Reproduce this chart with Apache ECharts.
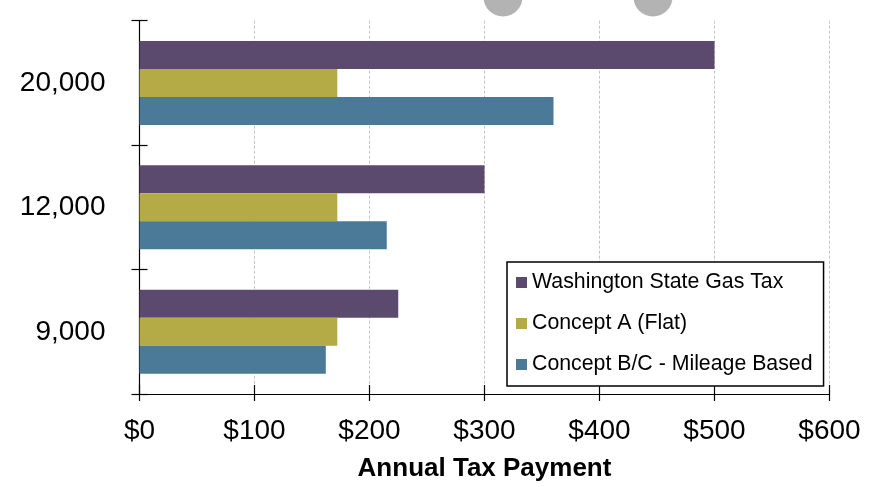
<!DOCTYPE html>
<html>
<head>
<meta charset="utf-8">
<script src="https://cdn.jsdelivr.net/npm/echarts@6/dist/echarts.min.js"></script>
<style>html,body{margin:0;padding:0;background:#fff;}#c{width:873px;height:487px;}</style>
</head>
<body>
<div id="c"></div>
<script>
const categories = ['9,000', '12,000', '20,000'];
const seriesNames = ['Washington State Gas Tax', 'Concept A (Flat)', 'Concept B/C - Mileage Based'];
const gasTax = [225, 300, 500];
const conceptA = [172, 172, 172];
const conceptBC = [162, 215, 360];
const xTicks = [0, 100, 200, 300, 400, 500, 600];
const colors = ['#5c4a6e', '#b4ab46', '#4a7a98'];
const FONT = 'Liberation Sans, Arial, sans-serif';

const chart = echarts.init(document.getElementById('c'));
const valueAxisBase = {
  type: 'value', min: xTicks[0], max: xTicks[xTicks.length - 1], interval: 100, position: 'bottom'
};
chart.setOption({
  animation: false,
  grid: { left: 139.5, right: 43.5, top: 20.7, bottom: 87.5, containLabel: false },
  legend: {
    orient: 'vertical', left: 507, top: 262,
    data: seriesNames,
    itemWidth: 11, itemHeight: 11, itemGap: 20,
    padding: [10, 11, 11, 9],
    borderColor: '#000', borderWidth: 1.5, backgroundColor: '#fff',
    textStyle: { fontFamily: FONT, fontSize: 21.3, color: '#000' },
    icon: 'rect'
  },
  xAxis: [
    Object.assign({}, valueAxisBase, {
      axisLine: { show: true, lineStyle: { color: '#000', width: 1.2 } },
      axisTick: { show: true, inside: false, length: 7, lineStyle: { color: '#000', width: 1.2 } },
      axisLabel: { fontFamily: FONT, fontSize: 28, color: '#000', margin: 23, formatter: v => '$' + v },
      splitLine: { show: true, lineStyle: { color: '#c4c4c4', width: 1, type: [3, 2] } },
      name: 'Annual Tax Payment', nameLocation: 'middle', nameGap: 62,
      nameTextStyle: { fontFamily: FONT, fontSize: 26, fontWeight: 'bold', color: '#000' }
    }),
    Object.assign({}, valueAxisBase, {
      axisLine: { show: false },
      axisTick: { show: true, inside: true, length: 9, lineStyle: { color: '#000', width: 1.2 } },
      axisLabel: { show: false },
      splitLine: { show: false }
    })
  ],
  yAxis: [
    {
      type: 'category', data: categories,
      axisLine: { show: true, lineStyle: { color: '#000', width: 1.2 } },
      axisTick: { show: true, inside: false, length: 8, lineStyle: { color: '#000', width: 1.2 } },
      axisLabel: { fontFamily: FONT, fontSize: 28, color: '#000', margin: 34 },
      splitLine: { show: false }
    },
    {
      type: 'category', data: categories, position: 'left',
      axisLine: { show: false },
      axisTick: { show: true, inside: true, length: 8, lineStyle: { color: '#000', width: 1.2 } },
      axisLabel: { show: false },
      splitLine: { show: false }
    }
  ],
  series: [
    { name: seriesNames[0], type: 'bar', data: gasTax, xAxisIndex: 0, yAxisIndex: 0, barWidth: 28, barGap: '0%', itemStyle: { color: colors[0] } },
    { name: seriesNames[1], type: 'bar', data: conceptA, xAxisIndex: 0, yAxisIndex: 0, barWidth: 28, barGap: '0%', itemStyle: { color: colors[1] } },
    { name: seriesNames[2], type: 'bar', data: conceptBC, xAxisIndex: 0, yAxisIndex: 0, barWidth: 28, barGap: '0%', itemStyle: { color: colors[2] } }
  ],
  graphic: [
    { type: 'circle', shape: { cx: 503, cy: -3, r: 19.5 }, style: { fill: '#b3b3b3' }, silent: true },
    { type: 'circle', shape: { cx: 653, cy: -3, r: 19.5 }, style: { fill: '#b3b3b3' }, silent: true }
  ]
});
</script>
</body>
</html>
